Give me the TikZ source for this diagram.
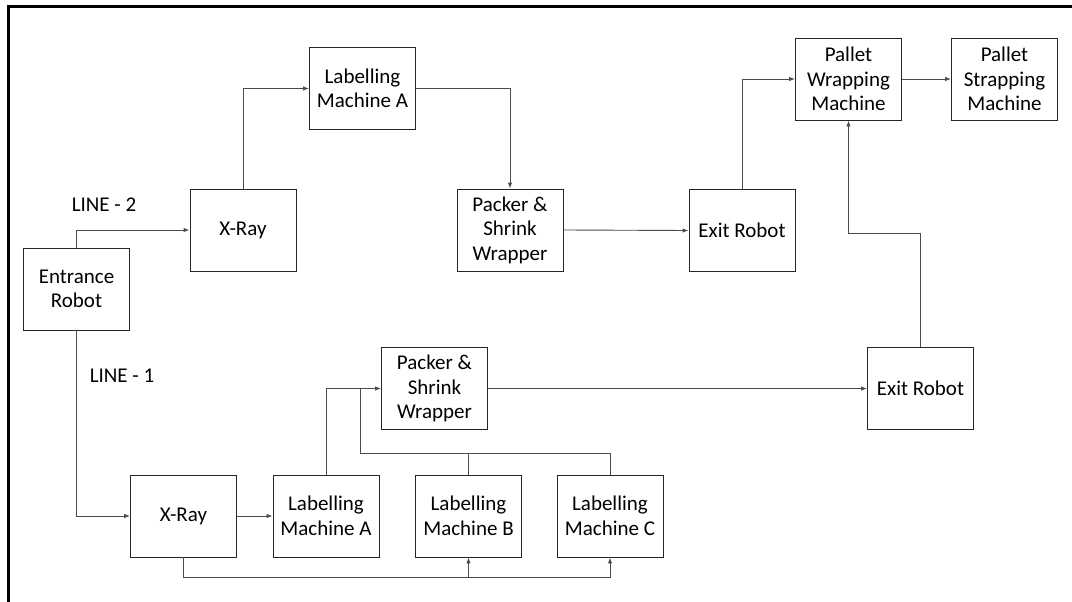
\documentclass[tikz,border=0pt]{standalone}
\usepackage{fontspec}
\setmainfont{Carlito}
\usetikzlibrary{arrows.meta}
\begin{document}
\begin{tikzpicture}[x=1pt,y=-1pt,
  box/.style={draw=black!85,line width=0.9pt,minimum width=106pt,minimum height=82pt,inner sep=0pt,align=center,font=\fontsize{21}{24.5}\selectfont},
  conn/.style={draw=black!70,line width=0.9pt},
  arr/.style={conn,-{Latex[length=6pt,width=4.5pt]}},
  lbl/.style={font=\fontsize{21}{24.5}\selectfont}]
\useasboundingbox (0,0) rectangle (1072,602);
\draw[line width=3pt] (8,602) -- (8,7) -- (1072,7);
% nodes
\node[box] (lmaT) at (362.5,88.5) {Labelling\\Machine A};
\node[box] (xrT)  at (243,230) {X-Ray};
\node[box] (ent)  at (76.5,289) {Entrance\\Robot};
\node[box] (pk1)  at (510,230) {Packer \&\\Shrink\\Wrapper};
\node[box] (ex1)  at (742,230.5) {Exit Robot};
\node[box] (pwm)  at (848.5,79) {Pallet\\Wrapping\\Machine};
\node[box] (psm)  at (1004.5,79) {Pallet\\Strapping\\Machine};
\node[box] (ex2)  at (920.5,388.5) {Exit Robot};
\node[box] (pk2)  at (434.5,388.5) {Packer \&\\Shrink\\Wrapper};
\node[box] (xrB)  at (183.5,516) {X-Ray};
\node[box] (lmaB) at (326,516) {Labelling\\Machine A};
\node[box] (lmbB) at (468.5,516) {Labelling\\Machine B};
\node[box] (lmcB) at (610,516) {Labelling\\Machine C};
\node[lbl] (l2) at (104,205) {LINE - 2};
\node[lbl] (l1) at (122,376) {LINE - 1};
% line 2
\draw[arr] (ent.north) |- (xrT.west);
\draw[arr] (xrT.north) |- (lmaT.west);
\draw[arr] (lmaT.east) -| (pk1.north);
\draw[arr] (pk1.east) -- (ex1.west);
\draw[arr] (ex1.north) |- (pwm.west);
\draw[arr] (pwm.east) -- (psm.west);
\coordinate (j1) at (920.5,233);
\draw[arr] (ex2.north) -- (j1) -| (pwm.south);
% line 1
\draw[arr] (ent.south) |- (xrB.west);
\draw[arr] (xrB.east) -- (lmaB.west);
\draw[arr] (lmaB.north) |- (pk2.west);
\draw[arr] (pk2.east) -- (ex2.west);
\coordinate (j2) at (360,388.5);
\coordinate (j3) at (360,453);
\draw[conn] (j2) -- (j3) -| (lmcB.north);
\draw[conn] (lmbB.north) -- (lmbB.north |- j3);
\coordinate (j4) at (183.5,577);
\draw[arr] (xrB.south) -- (j4) -| (lmcB.south);
\draw[arr] (lmbB.south |- j4) -- (lmbB.south);
\end{tikzpicture}
\end{document}
